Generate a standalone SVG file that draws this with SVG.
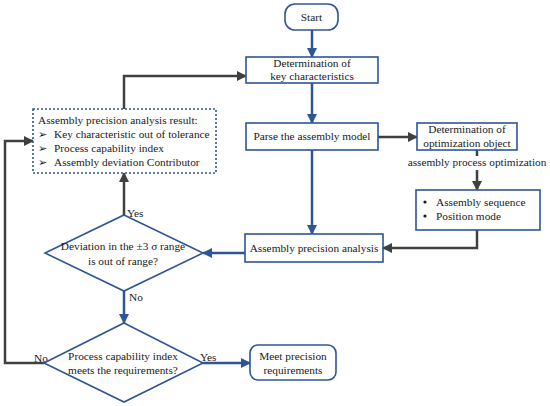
<svg xmlns="http://www.w3.org/2000/svg" width="550" height="406" viewBox="0 0 550 406" font-family="'Liberation Serif', 'Times New Roman', serif">
<defs>
<style>
text{font-family:"Liberation Serif","Times New Roman",serif;font-size:11.3px;fill:#1a1a1a}
.c{text-anchor:middle}
.box{fill:#fff;stroke:#2e5597;stroke-width:1.6}
.dot{fill:#fff;stroke:#2e5597;stroke-width:1.6;stroke-dasharray:2 2}
.b{fill:none;stroke:#2e5597;stroke-width:2.5}
.g{fill:none;stroke:#404040;stroke-width:2.5}
</style>
<marker id="ab" markerWidth="10" markerHeight="10" refX="9" refY="5" orient="auto" markerUnits="userSpaceOnUse"><path d="M0,0L10,5L0,10z" fill="#2e5597"/></marker>
<marker id="ag" markerWidth="10" markerHeight="10" refX="9" refY="5" orient="auto" markerUnits="userSpaceOnUse"><path d="M0,0L10,5L0,10z" fill="#404040"/></marker>
</defs>
<g id="connectors">
<path class="b" d="M312,30V57" marker-end="url(#ab)"/>
<path class="b" d="M312,83V123" marker-end="url(#ab)"/>
<path class="g" d="M378,137H417" marker-end="url(#ag)"/>
<path class="g" d="M477,150V156"/>
<path class="g" d="M477,170V190" marker-end="url(#ag)"/>
<path class="g" d="M477,230V248H383" marker-end="url(#ag)"/>
<path class="b" d="M312,150V234" marker-end="url(#ab)"/>
<path class="b" d="M245,253H203" marker-end="url(#ab)"/>
<path class="g" d="M124,215V173" marker-end="url(#ag)"/>
<path class="g" d="M124,109V76H246" marker-end="url(#ag)"/>
<path class="b" d="M124,291V323" marker-end="url(#ab)"/>
<path class="g" d="M44,363H5V141H33" marker-end="url(#ag)"/>
<path class="b" d="M203,363H250" marker-end="url(#ab)"/>
<text class="c" x="477" y="166">assembly process optimization</text>
<text x="127" y="217">Yes</text>
<text x="129" y="301">No</text>
<text x="34" y="362">No</text>
<text x="200" y="361">Yes</text>
</g>
<g id="start"><rect class="box" x="285" y="4" width="53" height="26" rx="10"/><text class="c" x="311.5" y="21">Start</text></g>
<g id="keychar"><rect class="box" x="246" y="57" width="132" height="26"/><text class="c" x="312" y="67">Determination of</text><text class="c" x="312" y="80">key characteristics</text></g>
<g id="parse"><rect class="box" x="246" y="123" width="132" height="27"/><text class="c" x="312" y="140">Parse the assembly model</text></g>
<g id="optobj"><rect class="box" x="417" y="123" width="100" height="27"/><text class="c" x="467" y="133">Determination of</text><text class="c" x="467" y="147">optimization object</text></g>
<g id="bullets"><rect class="box" x="416" y="190" width="124" height="40"/><circle cx="425" cy="202" r="1.6" fill="#1a1a1a"/><circle cx="425" cy="216" r="1.6" fill="#1a1a1a"/><text x="436" y="206">Assembly sequence</text><text x="436" y="220">Position mode</text></g>
<g id="analysis"><rect class="box" x="245" y="234" width="138" height="28"/><text class="c" x="314" y="252">Assembly precision analysis</text></g>
<g id="result"><rect class="dot" x="33" y="109" width="183" height="64"/><text x="38" y="124">Assembly precision analysis result:</text><text x="38" y="138">➢</text><text x="54" y="138">Key characteristic out of tolerance</text><text x="38" y="152">➢</text><text x="54" y="152">Process capability index</text><text x="38" y="166">➢</text><text x="54" y="166">Assembly deviation Contributor</text></g>
<g id="dev"><path class="box" d="M124,215L203,253L124,291L45,253z"/><text class="c" x="123" y="250">Deviation in the ±3 σ  range</text><text class="c" x="123" y="265">is out of range?</text></g>
<g id="cap"><path class="box" d="M124,323L203,363L124,402L44,363z"/><text class="c" x="123" y="360">Process capability index</text><text class="c" x="123" y="374">meets the requirements?</text></g>
<g id="meet"><rect class="box" x="250" y="345" width="86" height="35" rx="8"/><text class="c" x="293" y="360">Meet precision</text><text class="c" x="293" y="374">requirements</text></g>
</svg>
